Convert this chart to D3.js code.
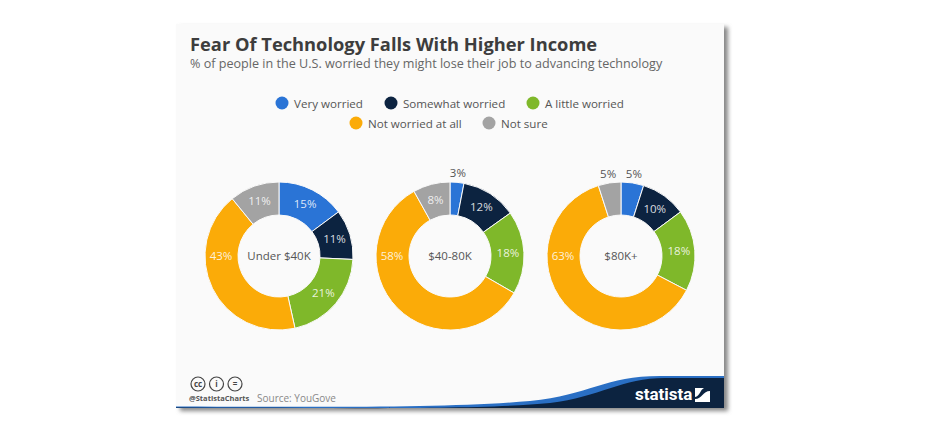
<!DOCTYPE html>
<html>
<head>
<meta charset="utf-8">
<script src="https://cdn.jsdelivr.net/npm/d3@7"></script>
<style>
body { margin: 0; background: #fff; }
text { font-family: "Open Sans", sans-serif; }
</style>
</head>
<body>
<div id="chart"></div>
<script>
var width = 925
var height = 437

var categories = ['Very worried', 'Somewhat worried', 'A little worried', 'Not worried at all', 'Not sure']
var colors = ['#2a74d6', '#0c2340', '#7fb82a', '#fbab08', '#a3a3a3']
var groups = ['Under $40K', '$40-80K', '$80K+']
var under40 = [15, 11, 21, 43, 11]
var mid4080 = [3, 12, 18, 58, 8]
var over80 = [5, 10, 18, 63, 5]
var series = [under40, mid4080, over80]

var svg = d3.select('#chart').append('svg')
    .attr('width', width)
    .attr('height', height)

var defs = svg.append('defs')
var blur = defs.append('filter').attr('id', 'shadow')
    .attr('x', '-5%').attr('y', '-5%').attr('width', '110%').attr('height', '110%')
blur.append('feGaussianBlur').attr('stdDeviation', 2)

// card
svg.append('rect').attr('x', 180).attr('y', 27).attr('width', 548).attr('height', 384)
    .attr('fill', '#888').attr('filter', 'url(#shadow)')
svg.append('rect').attr('x', 176).attr('y', 24).attr('width', 548).attr('height', 384)
    .attr('fill', '#fafafa')

svg.append('text').attr('x', 190).attr('y', 51)
    .attr('font-size', 18.3).attr('font-weight', 700).attr('fill', '#3d3d3d')
    .text('Fear Of Technology Falls With Higher Income')
svg.append('text').attr('x', 190).attr('y', 68)
    .attr('font-size', 12.6).attr('fill', '#666')
    .text('% of people in the U.S. worried they might lose their job to advancing technology')

// legend
var legendX = [282, 391, 533, 356, 489]
var legendY = [103, 103, 103, 123, 123]
var legend = svg.selectAll('.legend')
    .data(categories)
    .enter()
    .append('g')
    .attr('class', 'legend')
    .attr('transform', function (d, i) { return 'translate(' + legendX[i] + ',' + legendY[i] + ')' })
legend.append('circle').attr('r', 6.5).attr('fill', function (d, i) { return colors[i] })
legend.append('text').attr('x', 12).attr('y', 4.5)
    .attr('font-size', 11.6).attr('fill', '#555')
    .text(function (d) { return d })

// donuts
var centers = d3.scalePoint().domain(groups).range([279, 621])
var cy = 256
var outer = 74
var inner = 41
var labelRadius = 58

var pie = d3.pie().sort(null)
var arc = d3.arc().innerRadius(inner).outerRadius(outer)
var labelArc = d3.arc().innerRadius(labelRadius).outerRadius(labelRadius)
var outsideArc = d3.arc().innerRadius(83).outerRadius(83)

function labelPos(d) {
    // the big yellow slice always has its label at 9 o'clock
    if (d.value > 40) return [-labelRadius, 0]
    return (d.value <= 5 ? outsideArc : labelArc).centroid(d)
}

groups.forEach(function (name, g) {
    var donut = svg.append('g')
        .attr('transform', 'translate(' + centers(name) + ',' + cy + ')')
    var slices = pie(series[g])

    donut.selectAll('path')
        .data(slices)
        .enter()
        .append('path')
        .attr('d', arc)
        .attr('fill', function (d, i) { return colors[i] })
        .attr('stroke', '#fafafa')
        .attr('stroke-width', 1)

    donut.selectAll('text.pct')
        .data(slices)
        .enter()
        .append('text')
        .attr('class', 'pct')
        .attr('transform', function (d) { return 'translate(' + labelPos(d) + ')' })
        .attr('text-anchor', 'middle')
        .attr('dy', 4)
        .attr('font-size', 11.5)
        .attr('fill', function (d) { return d.value <= 5 ? '#555' : '#fff' })
        .attr('fill-opacity', function (d) { return d.value <= 5 ? 1 : 0.85 })
        .text(function (d) { return d.value + '%' })

    donut.append('text')
        .attr('text-anchor', 'middle')
        .attr('dy', 4)
        .attr('font-size', 11.5)
        .attr('fill', '#555')
        .text(name)
})

// footer wave
svg.append('path')
    .attr('d', 'M176,408 L176,406.5 C330,407 450,408 530,401 C590,395 605,376 660,376 L724,376 L724,408 Z')
    .attr('fill', '#2a6fc4')
svg.append('path')
    .attr('d', 'M176,408 L176,407.5 C330,408 480,410 550,403 C600,397 622,378 665,378 L724,378 L724,408 Z')
    .attr('fill', '#0c2340')

svg.append('text').attr('x', 635).attr('y', 400)
    .attr('font-size', 17).attr('font-weight', 700).attr('fill', '#fff')
    .style('font-family', 'Roboto')
    .text('statista')
svg.append('rect').attr('x', 695).attr('y', 388).attr('width', 15).attr('height', 14).attr('fill', '#fff')
svg.append('path').attr('d', 'M695,399 C702,399 703,391 710,391 L710,388 L704,388 C700,390 700,396 695,397 Z')
    .attr('fill', '#0c2340')

// cc icons
var icons = ['cc', 'i', '=']
var iconX = d3.scalePoint().domain(icons).range([198, 235])
icons.forEach(function (t) {
    svg.append('circle').attr('cx', iconX(t)).attr('cy', 384).attr('r', 7)
        .attr('fill', 'none').attr('stroke', '#444').attr('stroke-width', 1.2)
    svg.append('text').attr('x', iconX(t)).attr('y', 387)
        .attr('text-anchor', 'middle').attr('font-size', 8).attr('font-weight', 700)
        .attr('fill', '#444').text(t)
})
svg.append('text').attr('x', 189).attr('y', 401)
    .attr('font-size', 7.5).attr('font-weight', 700).attr('fill', '#555')
    .text('@StatistaCharts')
svg.append('text').attr('x', 257).attr('y', 402)
    .attr('font-size', 10).attr('fill', '#888')
    .text('Source: YouGove')
</script>
</body>
</html>
